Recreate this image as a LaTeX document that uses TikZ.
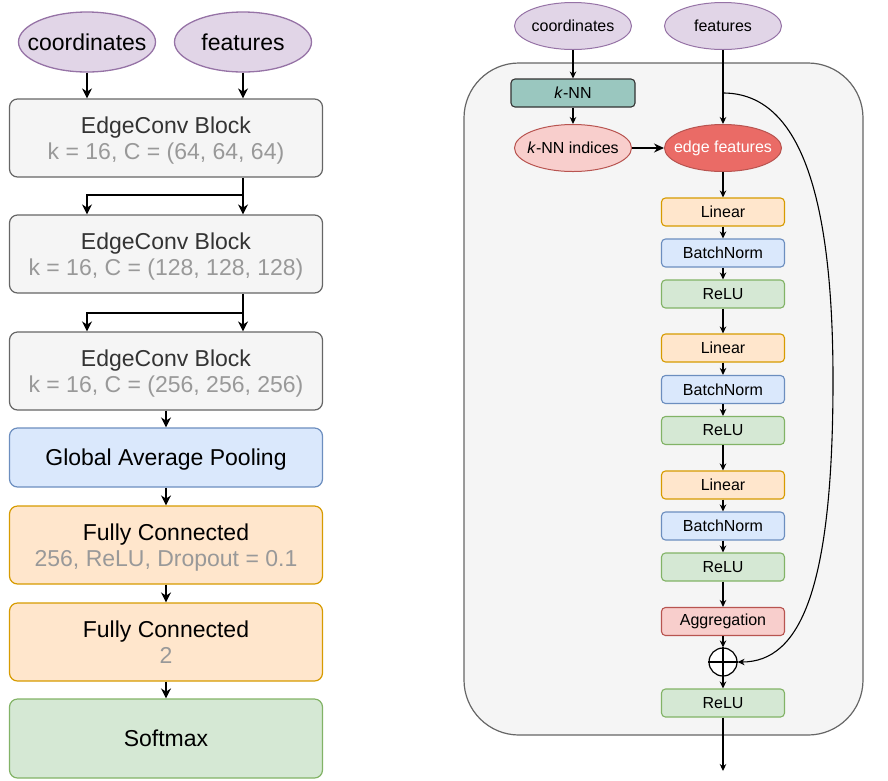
\documentclass[tikz,border=0pt]{standalone}
\usepackage{fontspec}
\setmainfont{Liberation Sans}
\usetikzlibrary{arrows.meta,calc,shapes.geometric}
\definecolor{purF}{HTML}{E1D5E7}\definecolor{purD}{HTML}{9673A6}
\definecolor{greyF}{HTML}{F5F5F5}\definecolor{greyD}{HTML}{666666}
\definecolor{bluF}{HTML}{DAE8FC}\definecolor{bluD}{HTML}{6C8EBF}
\definecolor{orF}{HTML}{FFE6CC}\definecolor{orD}{HTML}{D79B00}
\definecolor{grnF}{HTML}{D5E8D4}\definecolor{grnD}{HTML}{82B366}
\definecolor{redF}{HTML}{F8CECC}\definecolor{redD}{HTML}{B85450}
\definecolor{redS}{HTML}{EA6B66}
\definecolor{tealF}{HTML}{9AC7BF}
\definecolor{txtg}{HTML}{333333}
\definecolor{subc}{HTML}{999999}
\begin{document}
\begin{tikzpicture}[x=1pt,y=-1pt,
  big/.style={rectangle, rounded corners=8pt, inner sep=0pt, minimum width=313pt, minimum height=78pt, line width=1.2pt, align=center, text depth=0pt, font=\fontsize{23}{26.5}\selectfont},
  greybox/.style={big, fill=greyF, draw=greyD, text=txtg},
  bluebox/.style={big, fill=bluF, draw=bluD},
  orbox/.style={big, fill=orF, draw=orD},
  grnbox/.style={big, fill=grnF, draw=grnD},
  ellL/.style={ellipse, fill=purF, draw=purD, line width=1.3pt, minimum width=137pt, minimum height=60pt, inner sep=0pt, font=\fontsize{23}{27}\selectfont},
  ellR/.style={ellipse, line width=1pt, minimum width=117pt, minimum height=47pt, inner sep=0pt, font=\fontsize{16}{19}\selectfont},
  sb/.style={rectangle, rounded corners=4pt, minimum width=123pt, minimum height=28pt, inner sep=0pt, line width=1.1pt, font=\fontsize{16}{19}\selectfont},
  linb/.style={sb, fill=orF, draw=orD},
  bnb/.style={sb, fill=bluF, draw=bluD},
  reb/.style={sb, fill=grnF, draw=grnD},
  aggb/.style={sb, fill=redF, draw=redD},
  arrL/.style={-{Stealth[length=10pt,width=10pt]}, line width=1.9pt},
  arrR/.style={-{Stealth[length=7pt,width=6.5pt]}, line width=1.1pt},
]
\useasboundingbox (0,0) rectangle (888,780);

% ---------- left column ----------
\node[ellL] (c1) at (87,42) {\makebox[0pt]{coordinates}};
\node[ellL] (f1) at (243,42) {\makebox[0pt]{features}};
\node[greybox] (e1) at (166,138) {EdgeConv Block\\\textcolor{subc}{k = 16, C = (64, 64, 64)}};
\node[greybox] (e2) at (166,254) {EdgeConv Block\\\textcolor{subc}{k = 16, C = (128, 128, 128)}};
\node[greybox] (e3) at (166,371) {EdgeConv Block\\\textcolor{subc}{k = 16, C = (256, 256, 256)}};
\node[bluebox, minimum height=59pt] (gap) at (166,457.5) {Global Average Pooling};
\node[orbox] (fc1) at (166,545) {Fully Connected\\\textcolor{subc}{256, ReLU, Dropout = 0.1}};
\node[orbox] (fc2) at (166,642) {Fully Connected\\\textcolor{subc}{2}};
\node[grnbox, minimum height=79pt] (sm) at (166,738.5) {Softmax};

\draw[arrL] (c1.south) -- (c1.south |- e1.north);
\draw[arrL] (f1.south) -- (f1.south |- e1.north);
\coordinate (j1) at (243,195);
\coordinate (j2) at (243,313);
\draw[arrL] (e1.south -| f1) -- (e2.north -| f1);
\draw[arrL] (j1) -| (e2.north -| c1);
\draw[arrL] (e2.south -| f1) -- (e3.north -| f1);
\draw[arrL] (j2) -| (e3.north -| c1);
\draw[arrL] (e3.south) -- (gap.north);
\draw[arrL] (gap.south) -- (fc1.north);
\draw[arrL] (fc1.south) -- (fc2.north);
\draw[arrL] (fc2.south) -- (sm.north);

% ---------- right: EdgeConv block ----------
\node[rectangle, rounded corners=55pt, fill=greyF, draw=greyD, line width=1.2pt, minimum width=399pt, minimum height=672pt, inner sep=0pt] (blk) at (663.5,399) {};

\node[ellR, fill=purF, draw=purD] (cr) at (573,26) {\makebox[0pt]{coordinates}};
\node[ellR, fill=purF, draw=purD] (fr) at (723,26) {\makebox[0pt]{features}};
\node[sb, fill=tealF, draw=black!80, minimum width=124pt] (knn) at (573,93) {\textit{k}-NN};
\node[ellR, fill=redF, draw=redD] (ki) at (573,148) {\makebox[0pt]{\textit{k}-NN indices}};
\node[ellR, fill=redS, draw=redD, text=white] (ef) at (723,148) {\makebox[0pt]{edge features}};

\node[linb] (l1) at (723,212) {Linear};
\node[bnb]  (b1) at (723,253) {BatchNorm};
\node[reb]  (r1) at (723,294) {ReLU};
\node[linb] (l2) at (723,348) {Linear};
\node[bnb]  (b2) at (723,389.5) {BatchNorm};
\node[reb]  (r2) at (723,430.5) {ReLU};
\node[linb] (l3) at (723,485) {Linear};
\node[bnb]  (b3) at (723,526) {BatchNorm};
\node[reb]  (r3) at (723,567) {ReLU};
\node[aggb] (ag) at (723,621.5) {Aggregation};
\node[circle, draw=black, fill=white, line width=1.2pt, minimum size=28pt, inner sep=0pt] (ci) at (723,662) {};
\draw[line width=1.2pt] (ci.north) -- (ci.south) (ci.west) -- (ci.east);
\node[reb]  (r4) at (723,703) {ReLU};
\coordinate (out) at (723,771);
\coordinate (sk) at (723,93);

\draw[arrR] (cr.south) -- (cr.south |- knn.north);
\draw[arrR] (knn.south) -- (ki.north);
\draw[-{Stealth[length=10pt,width=9pt]}, line width=1.2pt] (ki.east) -- (ef.west);
\draw[arrR] (fr.south) -- (ef.north);
\draw[arrR] (ef.south) -- (l1.north);
\draw[arrR] (l1) -- (b1);
\draw[arrR] (b1) -- (r1);
\draw[arrR] (r1) -- (l2);
\draw[arrR] (l2) -- (b2);
\draw[arrR] (b2) -- (r2);
\draw[arrR] (r2) -- (l3);
\draw[arrR] (l3) -- (b3);
\draw[arrR] (b3) -- (r3);
\draw[arrR] (r3) -- (ag);
\draw[arrR] (ag.south) -- (ci.north);
\draw[arrR] (ci.south) -- (r4.north);
\draw[arrR] (r4.south) -- (out);
\draw[arrR] (sk) .. controls (790,93) and (833,170) .. (833,380) .. controls (833,590) and (800,662) .. (ci.east);
\end{tikzpicture}
\end{document}
